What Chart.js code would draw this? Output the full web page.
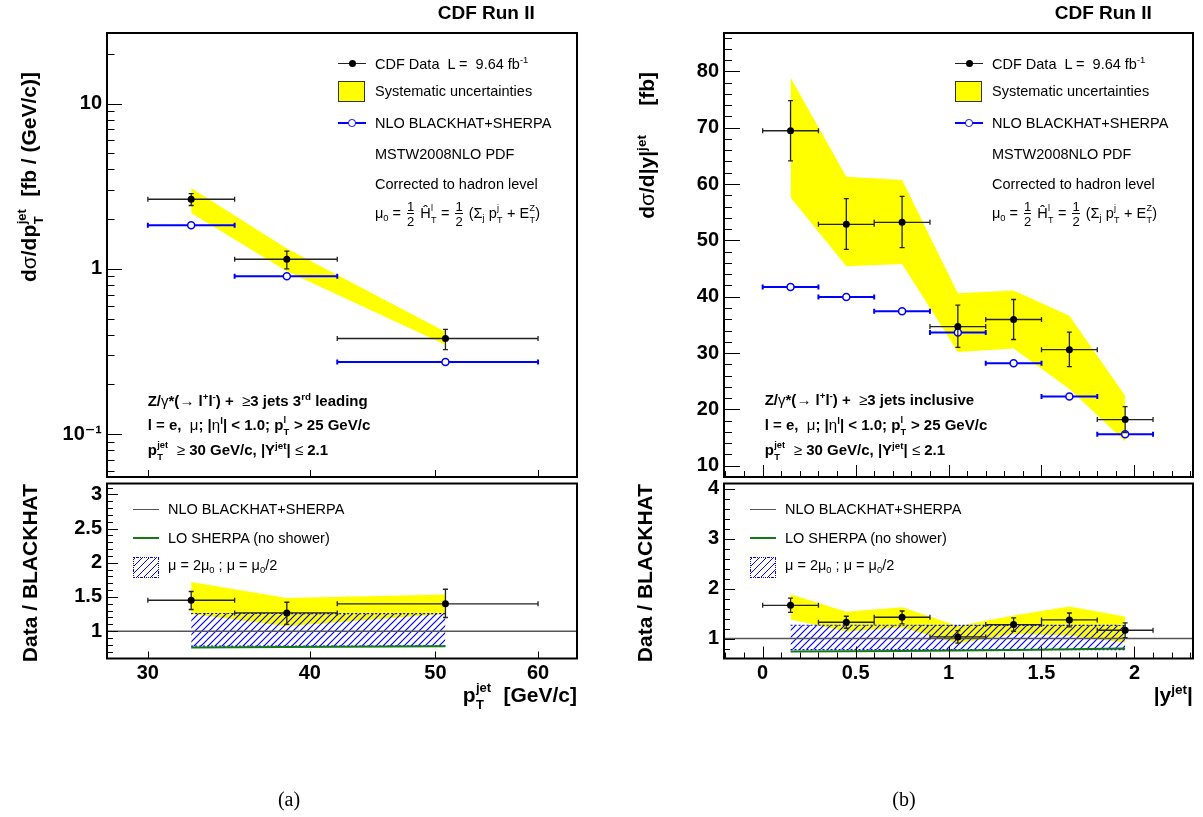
<!DOCTYPE html>
<html>
<head>
<meta charset="utf-8">
<script src="https://cdn.jsdelivr.net/npm/chart.js@4.4.1/dist/chart.umd.min.js"></script>
<style>
html,body{margin:0;padding:0;background:#fff;}
#wrap{position:relative;width:1203px;height:817px;overflow:hidden;font-family:"Liberation Sans",Arial,sans-serif;color:#000;}
#wrap canvas{position:absolute;left:0;top:0;}
.t{position:absolute;white-space:nowrap;line-height:1;}
.lg{font-size:14.5px;}
.bk{font-size:15px;font-weight:bold;}
.ttl{font-size:21px;font-weight:bold;}
.sym{font-weight:normal;}
sup,sub{font-size:0.65em;line-height:0;}
sup{vertical-align:0.6em;}
sub{vertical-align:-0.35em;}
.ss{display:inline-flex;flex-direction:column;align-items:flex-start;font-size:0.62em;line-height:1.3;vertical-align:0.75em;margin:-1em 0.05em -1em 0.03em;}
.frac{display:inline-flex;flex-direction:column;align-items:center;font-size:0.9em;line-height:1;vertical-align:middle;margin:-1em 0.15em;}
.frac span:last-child{border-top:1px solid #000;padding-top:1px;}
.ytl{transform-origin:0 0;transform:rotate(-90deg) translateX(-100%);}
.shape{position:absolute;box-sizing:border-box;}
.cap{position:absolute;width:80px;text-align:center;font-family:"Liberation Serif","Times New Roman",serif;font-size:20px;line-height:1;}
</style>
</head>
<body>
<div id="wrap">
<canvas id="cA" width="1203" height="817"></canvas>
<canvas id="cAr" width="1203" height="817"></canvas>
<canvas id="cB" width="1203" height="817"></canvas>
<canvas id="cBr" width="1203" height="817"></canvas>
</div>
<script>
// ================= DATA: panel (a)  3rd leading jet pT =================
const ptBinLo      = [30, 35, 42];
const ptBinHi      = [35, 42, 60];
const ptCenter     = [32.4, 38.4, 50.9];
const ptData       = [2.64, 1.144, 0.379];
const ptStatHi     = [2.86, 1.28, 0.431];
const ptStatLo     = [2.42, 1.00, 0.325];
const ptSysHi      = [3.09, 1.33, 0.416];
const ptSysLo      = [2.18, 0.967, 0.347];
const ptNLO        = [1.84, 0.904, 0.273];
const ptRatio      = [1.452, 1.267, 1.40];
const ptRatioHi    = [1.58, 1.423, 1.613];
const ptRatioLo    = [1.317, 1.10, 1.20];
const ptRatioSysHi = [1.72, 1.486, 1.535];
const ptRatioSysLo = [1.25, 1.07, 1.25];
const ptScaleHi    = [1.258, 1.258, 1.255];
const ptScaleLo    = [0.78, 0.78, 0.785];
const ptLO         = [0.762, 0.768, 0.778];

// ================= DATA: panel (b)  |y| of jets =================
const yBinLo      = [0.0, 0.3, 0.6, 0.9, 1.2, 1.5, 1.8];
const yBinHi      = [0.3, 0.6, 0.9, 1.2, 1.5, 1.8, 2.1];
const yCenter     = [0.15, 0.45, 0.75, 1.05, 1.35, 1.65, 1.95];
const yData       = [69.45, 52.85, 53.2, 34.7, 35.95, 30.6, 18.2];
const yStatHi     = [74.8, 57.4, 57.8, 38.5, 39.5, 33.7, 20.5];
const yStatLo     = [64.1, 48.4, 48.7, 31.0, 32.4, 27.6, 15.9];
const ySysHi      = [78.9, 61.3, 60.7, 40.6, 41.1, 36.6, 22.4];
const ySysLo      = [57.6, 45.4, 45.8, 30.2, 30.8, 23.6, 14.3];
const yNLO        = [41.7, 39.95, 37.4, 33.65, 28.2, 22.3, 15.6];
const yRatio      = [1.667, 1.327, 1.427, 1.033, 1.28, 1.373, 1.167];
const yRatioHi    = [1.81, 1.447, 1.553, 1.16, 1.413, 1.513, 1.313];
const yRatioLo    = [1.527, 1.207, 1.293, 0.907, 1.147, 1.233, 1.02];
const yRatioSysHi = [1.89, 1.54, 1.63, 1.25, 1.46, 1.645, 1.44];
const yRatioSysLo = [1.38, 1.14, 1.22, 0.90, 1.09, 1.06, 0.915];
const yScaleHi    = [1.267, 1.267, 1.267, 1.265, 1.265, 1.265, 1.262];
const yScaleLo    = [0.78, 0.78, 0.78, 0.78, 0.78, 0.78, 0.78];
const yLO         = [0.74, 0.745, 0.75, 0.76, 0.77, 0.785, 0.80];

// ================= AXES: ranges and tick labels =================
const aXMin = 27.9, aXMax = 64.3;
const aXLab = [30, 40, 50, 60];
const aYMin = 0.055, aYMax = 26.8;
const aYLab = [0.1, 1, 10];
const aYTxt = ['10\u207B\u00B9', '1', '10'];
const aYMinor = [0.06,0.07,0.08,0.09,0.2,0.3,0.4,0.5,0.6,0.7,0.8,0.9,2,3,4,5,6,7,8,9,20];
const aRMin = 0.6, aRMax = 3.16;
const aRLab = [1, 1.5, 2, 2.5, 3];
const bXMin = -0.208, bXMax = 2.315;
const bXLab = [0, 0.5, 1, 1.5, 2];
const bYMin = 8, bYMax = 86.8;
const bYLab = [10, 20, 30, 40, 50, 60, 70, 80];
const bRMin = 0.6, bRMax = 4.11;
const bRLab = [1, 2, 3, 4];

const steps = (a, b, d) => { const r = []; for (let k = Math.round(a / d); k * d <= b + 1e-9; k++) r.push(+(k * d).toFixed(4)); return r; };
const aRMinor = steps(0.6, 3.1, 0.1);
const bXMinor = steps(-0.2, 2.3, 0.1);
const bYMinor = steps(8, 86, 2);
const bRMinor = steps(0.6, 4.0, 0.2);

// ================= STYLE =================
const YEL = '#ffff00', BLUE = '#0000ff', GREEN = '#137a13', GRAY = '#555555', BLK = '#222222';
const FONT = "'Liberation Sans', 'DejaVu Sans', Arial, sans-serif";
Chart.defaults.font.family = FONT;
Chart.defaults.color = '#000';
const W = 1203, H = 817, YAXW = 60, XAXH = 40;
const FR_A = {left: 107, right: 577}, FR_B = {left: 724, right: 1193};
const FR_TOP = {top: 33, bottom: 477}, FR_RAT = {top: 483.5, bottom: 658.5};

const pts = (xs, ys) => xs.map((x, i) => ({x, y: ys[i]}));

function padFor(fx, fy, xl) {
  return {left: fx.left - YAXW, right: W - fx.right, top: fy.top, bottom: H - fy.bottom - (xl ? XAXH : 0)};
}
function axis(type, min, max, labels, texts, isY, show) {
  return {
    type, min, max, position: isY ? 'left' : 'bottom',
    afterBuildTicks: s => { s.ticks = labels.map(v => ({value: v})); },
    afterFit: s => { if (isY) s.width = YAXW; else s.height = show ? XAXH : 0; },
    grid: {display: false, drawTicks: false},
    border: {display: false},
    ticks: {display: show, autoSkip: false, maxRotation: 0, minRotation: 0,
      padding: isY ? 5 : 3, color: '#000', font: {family: FONT, weight: 'bold', size: 20},
      callback: (v, i) => texts[i]}
  };
}

// error bars / bin widths drawn through the chart scales, just before each dataset
const errBars = {
  id: 'errBars',
  beforeDatasetDraw(chart, args) {
    const ds = chart.data.datasets[args.index];
    const e = ds.eb; if (!e) return;
    const {ctx, scales: {x, y}} = chart;
    ctx.save(); ctx.strokeStyle = e.color; ctx.lineWidth = e.width;
    ctx.beginPath();
    ds.data.forEach((p, i) => {
      const px = x.getPixelForValue(p.x), py = y.getPixelForValue(p.y);
      const x0 = x.getPixelForValue(e.lo[i]), x1 = x.getPixelForValue(e.hi[i]);
      ctx.moveTo(x0, py); ctx.lineTo(x1, py);
      ctx.moveTo(x0, py - 2.5); ctx.lineTo(x0, py + 2.5);
      ctx.moveTo(x1, py - 2.5); ctx.lineTo(x1, py + 2.5);
      if (e.up) {
        const yu = y.getPixelForValue(e.up[i]), yd = y.getPixelForValue(e.dn[i]);
        ctx.moveTo(px, yu); ctx.lineTo(px, yd);
        ctx.moveTo(px - 2.5, yu); ctx.lineTo(px + 2.5, yu);
        ctx.moveTo(px - 2.5, yd); ctx.lineTo(px + 2.5, yd);
      }
    });
    ctx.stroke(); ctx.restore();
  }
};

// ROOT-like frame with inward ticks
const rootFrame = {
  id: 'rootFrame',
  afterDatasetsDraw(chart, args, o) {
    const {ctx, chartArea: a, scales: {x, y}} = chart;
    ctx.save(); ctx.strokeStyle = '#000'; ctx.lineWidth = 1;
    ctx.beginPath();
    const tY = (vals, len) => vals.forEach(v => { const p = Math.round(y.getPixelForValue(v)) + 0.5; if (p < a.top || p > a.bottom) return; ctx.moveTo(a.left, p); ctx.lineTo(a.left + len, p); });
    const tX = (vals, len) => vals.forEach(v => { const p = Math.round(x.getPixelForValue(v)) + 0.5; if (p < a.left || p > a.right) return; ctx.moveTo(p, a.bottom); ctx.lineTo(p, a.bottom - len); });
    tY(o.yMinor, o.yMinLen); tY(o.yMajor, o.yMajLen);
    tX(o.xMinor, o.xMinLen); tX(o.xMajor, o.xMajLen);
    ctx.stroke();
    ctx.lineWidth = 2;
    ctx.strokeRect(a.left, a.top, a.right - a.left, a.bottom - a.top);
    ctx.restore();
  }
};

function hatchPattern(ctx) {
  const s = 7, c = document.createElement('canvas'); c.width = s; c.height = s;
  const g = c.getContext('2d');
  g.strokeStyle = BLUE; g.lineWidth = 1.2;
  g.beginPath();
  g.moveTo(0, s); g.lineTo(s, 0);
  g.moveTo(-1, 1); g.lineTo(1, -1);
  g.moveTo(s - 1, s + 1); g.lineTo(s + 1, s - 1);
  g.stroke();
  return ctx.createPattern(c, 'repeat');
}

const none = 'rgba(0,0,0,0)';
function band(xs, hi, lo, bg, order, border) {
  const b = border || {borderColor: none, borderWidth: 1};
  return [
    Object.assign({type: 'line', data: pts(xs, hi), fill: '+1', backgroundColor: bg, pointRadius: 0, order}, b),
    Object.assign({type: 'line', data: pts(xs, lo), fill: false, pointRadius: 0, order}, b)
  ];
}
function dataSet(xs, ys, lo, hi, up, dn) {
  return {type: 'scatter', data: pts(xs, ys), pointRadius: 3.5, pointBackgroundColor: '#000',
    pointBorderColor: '#000', pointBorderWidth: 0, order: 1,
    eb: {lo, hi, up, dn, color: BLK, width: 1.3}};
}
function nloSet(xs, ys, lo, hi) {
  return {type: 'scatter', data: pts(xs, ys), pointRadius: 3.5, pointBackgroundColor: '#fff',
    pointBorderColor: BLUE, pointBorderWidth: 1.5, order: 3,
    eb: {lo, hi, color: BLUE, width: 2}};
}

function makeChart(id, datasets, scales, pad, frame) {
  const ctx = document.getElementById(id).getContext('2d');
  return new Chart(ctx, {
    type: 'scatter',
    data: {datasets: typeof datasets === 'function' ? datasets(ctx) : datasets},
    options: {
      responsive: false, animation: false, devicePixelRatio: 1, events: [],
      layout: {padding: pad},
      scales,
      plugins: {legend: {display: false}, tooltip: {enabled: false}, rootFrame: frame}
    },
    plugins: [errBars, rootFrame]
  });
}

// ---------- (a) top ----------
makeChart('cA', [
  ...band(ptCenter, ptSysHi, ptSysLo, YEL, 10),
  nloSet(ptCenter, ptNLO, ptBinLo, ptBinHi),
  dataSet(ptCenter, ptData, ptBinLo, ptBinHi, ptStatHi, ptStatLo)
], {
  x: axis('logarithmic', aXMin, aXMax, aXLab, aXLab.map(String), false, false),
  y: axis('logarithmic', aYMin, aYMax, aYLab, aYTxt, true, true)
}, padFor(FR_A, FR_TOP, false),
{yMajor: aYLab, yMinor: aYMinor, yMajLen: 15, yMinLen: 7.5, xMajor: aXLab, xMinor: [], xMajLen: 7, xMinLen: 7});

// ---------- (a) ratio ----------
makeChart('cAr', ctx => [
  ...band(ptCenter, ptRatioSysHi, ptRatioSysLo, YEL, 10),
  ...band(ptCenter, ptScaleHi, ptScaleLo, hatchPattern(ctx), 9, {borderColor: BLUE, borderWidth: 1.2, borderDash: [2, 2]}),
  {type: 'line', data: [{x: aXMin, y: 1}, {x: aXMax, y: 1}], borderColor: GRAY, borderWidth: 1.5, pointRadius: 0, order: 7},
  {type: 'line', data: pts(ptCenter, ptLO), borderColor: GREEN, borderWidth: 2, pointRadius: 0, order: 6},
  dataSet(ptCenter, ptRatio, ptBinLo, ptBinHi, ptRatioHi, ptRatioLo)
], {
  x: axis('logarithmic', aXMin, aXMax, aXLab, aXLab.map(String), false, true),
  y: axis('linear', aRMin, aRMax, aRLab, aRLab.map(String), true, true)
}, padFor(FR_A, FR_RAT, true),
{yMajor: aRLab, yMinor: aRMinor, yMajLen: 11, yMinLen: 6, xMajor: aXLab, xMinor: [], xMajLen: 7, xMinLen: 7});

// ---------- (b) top ----------
makeChart('cB', [
  ...band(yCenter, ySysHi, ySysLo, YEL, 10),
  nloSet(yCenter, yNLO, yBinLo, yBinHi),
  dataSet(yCenter, yData, yBinLo, yBinHi, yStatHi, yStatLo)
], {
  x: axis('linear', bXMin, bXMax, bXLab, bXLab.map(String), false, false),
  y: axis('linear', bYMin, bYMax, bYLab, bYLab.map(String), true, true)
}, padFor(FR_B, FR_TOP, false),
{yMajor: bYLab, yMinor: bYMinor, yMajLen: 16, yMinLen: 8, xMajor: bXLab, xMinor: bXMinor, xMajLen: 12, xMinLen: 6});

// ---------- (b) ratio ----------
makeChart('cBr', ctx => [
  ...band(yCenter, yRatioSysHi, yRatioSysLo, YEL, 10),
  ...band(yCenter, yScaleHi, yScaleLo, hatchPattern(ctx), 9, {borderColor: BLUE, borderWidth: 1.2, borderDash: [2, 2]}),
  {type: 'line', data: [{x: bXMin, y: 1}, {x: bXMax, y: 1}], borderColor: GRAY, borderWidth: 1.5, pointRadius: 0, order: 7},
  {type: 'line', data: pts(yCenter, yLO), borderColor: GREEN, borderWidth: 2, pointRadius: 0, order: 6},
  dataSet(yCenter, yRatio, yBinLo, yBinHi, yRatioHi, yRatioLo)
], {
  x: axis('linear', bXMin, bXMax, bXLab, bXLab.map(String), false, true),
  y: axis('linear', bRMin, bRMax, bRLab, bRLab.map(String), true, true)
}, padFor(FR_B, FR_RAT, true),
{yMajor: bRLab, yMinor: bRMinor, yMajLen: 11, yMinLen: 6, xMajor: bXLab, xMinor: bXMinor, xMajLen: 12, xMinLen: 6});

// ================= TEXT & LEGENDS (HTML) =================
const wrap = document.getElementById('wrap');
function txt(x, y, html, cls, extra) {
  const d = document.createElement('div');
  d.className = 't ' + (cls || '');
  d.style.left = x + 'px'; d.style.top = y + 'px';
  if (extra) Object.assign(d.style, extra);
  d.innerHTML = html;
  wrap.appendChild(d); return d;
}
function shape(x, y, w, h, css) {
  const d = document.createElement('div');
  d.className = 'shape';
  Object.assign(d.style, {left: x + 'px', top: y + 'px', width: w + 'px', height: h + 'px'}, css || {});
  wrap.appendChild(d); return d;
}
const SS = (a, b) => `<span class="ss"><span>${a}</span><span>${b}</span></span>`;
const FR = `<span class="frac"><span>1</span><span>2</span></span>`;
const G = s => `<span class="sym">${s}</span>`;

const blockRow1 = [
  `Z/${G('γ')}*(${G('→')} l<sup>+</sup>l<sup>-</sup>) + &nbsp;${G('≥')}3 jets 3<sup>rd</sup> leading`,
  `Z/${G('γ')}*(${G('→')} l<sup>+</sup>l<sup>-</sup>) + &nbsp;${G('≥')}3 jets inclusive`
];
[0, 617].forEach((off, k) => {
  // title
  txt(437.7 + off, 3.2, 'CDF Run II', '', {fontSize: '19px', fontWeight: 'bold'});
  // top legend
  shape(338 + off, 62.75, 28, 1.5, {background: BLK});
  shape(348.5 + off, 60, 7, 7, {background: '#000', borderRadius: '50%'});
  txt(375 + off, 56.6, 'CDF Data&nbsp; L = &nbsp;9.64 fb<sup>-1</sup>', 'lg');
  shape(338 + off, 81, 27, 21, {background: YEL, border: '1px solid #333'});
  txt(375 + off, 83.9, 'Systematic uncertainties', 'lg');
  shape(338 + off, 122, 28, 2, {background: BLUE});
  shape(348.25 + off, 119.25, 7.5, 7.5, {background: '#fff', border: '1.5px solid ' + BLUE, borderRadius: '50%'});
  txt(375 + off, 116.2, 'NLO BLACKHAT+SHERPA', 'lg');
  txt(375 + off, 147, 'MSTW2008NLO PDF', 'lg');
  txt(375 + off, 177.1, 'Corrected to hadron level', 'lg');
  txt(375 + off, 206, `${G('μ')}<sub>0</sub> = ${FR} Ĥ${SS('l', 'T')} = ${FR} (Σ<sub>j</sub> p${SS('j', 'T')} + E${SS('Z', 'T')})`, 'lg');
  // process block
  txt(147.7 + off, 393.2 - k * 1.5, blockRow1[k], 'bk');
  txt(147.7 + off, 416.6, `l = e, &nbsp;${G('μ')}; |${G('η')}<sup>l</sup>| &lt; 1.0; p${SS('l', 'T')} &gt; 25 GeV/c`, 'bk');
  txt(147.7 + off, 442.3, `p${SS('jet', 'T')} &nbsp;${G('≥')} 30 GeV/c, |Y<sup>jet</sup>| ${G('≤')} 2.1`, 'bk');
  // ratio legend
  shape(132.7 + off, 508.5, 26, 1.5, {background: GRAY});
  txt(168 + off, 502.1, 'NLO BLACKHAT+SHERPA', 'lg');
  shape(132.7 + off, 536.7, 26, 2, {background: GREEN});
  txt(168 + off, 530.6, 'LO SHERPA (no shower)', 'lg');
  shape(132.7 + off, 556.7, 26, 21, {border: '1.5px dotted ' + BLUE,
    background: `repeating-linear-gradient(135deg, ${BLUE} 0 1px, transparent 1px 5px)`});
  txt(168 + off, 558.2, `${G('μ')} = 2${G('μ')}<sub>0</sub> ; ${G('μ')} = ${G('μ')}<sub>0</sub>/2`, 'lg');
});

// axis titles
txt(18.2, 72, `d${G('σ')}/dp${SS('jet', 'T')}&nbsp; [fb / (GeV/c)]`, 'ttl ytl');
txt(635.7, 72, `d${G('σ')}/d|y|<sup>jet</sup>&nbsp;&nbsp;&nbsp;&nbsp; [fb]`, 'ttl ytl');
txt(18.7, 484, 'Data / BLACKHAT', 'ttl ytl');
txt(634.4, 484, 'Data / BLACKHAT', 'ttl ytl');
txt(0, 684.2, `p${SS('jet', 'T')}&nbsp; [GeV/c]`, 'ttl', {left: 'auto', right: (W - 577) + 'px'});
txt(0, 684.2, `|y<sup>jet</sup>|`, 'ttl', {left: 'auto', right: (W - 1193) + 'px'});

// captions
const c1 = document.createElement('div'); c1.className = 'cap'; c1.style.left = '249px'; c1.style.top = '789px'; c1.textContent = '(a)'; wrap.appendChild(c1);
const c2 = document.createElement('div'); c2.className = 'cap'; c2.style.left = '864px'; c2.style.top = '789px'; c2.textContent = '(b)'; wrap.appendChild(c2);
</script>
</body>
</html>
